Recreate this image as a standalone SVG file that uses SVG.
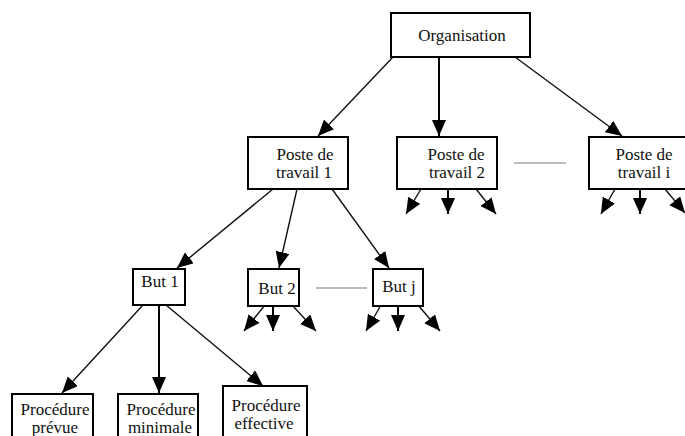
<svg xmlns="http://www.w3.org/2000/svg" width="685" height="436" viewBox="0 0 685 436">
<defs>
<marker id="ah" markerUnits="userSpaceOnUse" markerWidth="17" markerHeight="15" refX="16" refY="7" orient="auto">
<path d="M0,0 L16,7 L0,14 z" fill="#000"/>
</marker>
<style>
.box{fill:#fff;stroke:#000;stroke-width:2}
.t{font-family:"Liberation Serif","Times New Roman",serif;font-size:17px;fill:#111;text-anchor:middle}
.c{stroke:#111;stroke-width:1.4;fill:none;marker-end:url(#ah)}
.v{stroke:#000;stroke-width:2;fill:none;marker-end:url(#ah)}
.g{stroke:#bbb;stroke-width:2}
</style>
</defs>
<rect width="685" height="436" fill="#fff"/>
<g id="connectors">
<line class="c" x1="393" y1="57" x2="318" y2="136"/>
<line class="v" x1="439" y1="57" x2="439" y2="136"/>
<line class="c" x1="515" y1="57" x2="622" y2="136"/>
<line class="c" x1="273" y1="189" x2="177" y2="268"/>
<line class="c" x1="297" y1="189" x2="279" y2="268"/>
<line class="c" x1="332" y1="189" x2="389" y2="268"/>
<line class="c" x1="143" y1="305" x2="62" y2="393"/>
<line class="v" x1="159" y1="305" x2="159" y2="393"/>
<line class="c" x1="166" y1="305" x2="263" y2="386"/>
<line class="c" x1="421" y1="189" x2="406" y2="214"/>
<line class="v" x1="448" y1="189" x2="448" y2="214"/>
<line class="c" x1="476" y1="189" x2="496" y2="214"/>
<line class="c" x1="615" y1="189" x2="601" y2="214"/>
<line class="v" x1="640" y1="189" x2="640" y2="214"/>
<line class="c" x1="665" y1="189" x2="685" y2="213"/>
<line class="c" x1="265" y1="305" x2="244" y2="331"/>
<line class="v" x1="273" y1="305" x2="273" y2="331"/>
<line class="c" x1="292" y1="305" x2="316" y2="331"/>
<line class="c" x1="381" y1="305" x2="366" y2="331"/>
<line class="v" x1="398" y1="305" x2="398" y2="331"/>
<line class="c" x1="418" y1="305" x2="440" y2="331"/>
<line class="g" x1="514" y1="163" x2="566" y2="163"/>
<line class="g" x1="316" y1="288" x2="367" y2="288"/>
</g>
<g id="organisation">
<rect class="box" x="391" y="13" width="139" height="44"/>
<text class="t" x="462" y="41">Organisation</text>
</g>
<g id="poste1">
<rect class="box" x="248" y="137" width="100" height="52"/>
<text class="t" x="305" y="160">Poste de</text>
<text class="t" x="304" y="178">travail 1</text>
</g>
<g id="poste2">
<rect class="box" x="397" y="137" width="100" height="52"/>
<text class="t" x="456" y="160">Poste de</text>
<text class="t" x="457" y="178">travail 2</text>
</g>
<g id="postei">
<rect class="box" x="589" y="137" width="100" height="52"/>
<text class="t" x="644" y="160">Poste de</text>
<text class="t" x="644" y="178">travail i</text>
</g>
<g id="but1">
<rect class="box" x="133" y="269" width="52" height="36"/>
<text class="t" x="160" y="287">But 1</text>
</g>
<g id="but2">
<rect class="box" x="248" y="269" width="51" height="37"/>
<text class="t" x="277" y="294">But 2</text>
</g>
<g id="butj">
<rect class="box" x="373" y="269" width="50" height="37"/>
<text class="t" x="399" y="292">But j</text>
</g>
<g id="prevue">
<rect class="box" x="12" y="394" width="81" height="50"/>
<text class="t" x="55" y="415">Procédure</text>
<text class="t" x="55" y="433">prévue</text>
</g>
<g id="minimale">
<rect class="box" x="118" y="394" width="80" height="50"/>
<text class="t" x="161" y="415">Procédure</text>
<text class="t" x="160" y="433">minimale</text>
</g>
<g id="effective">
<rect class="box" x="223" y="386" width="84" height="58"/>
<text class="t" x="266" y="411">Procédure</text>
<text class="t" x="264" y="429">effective</text>
</g>
</svg>
